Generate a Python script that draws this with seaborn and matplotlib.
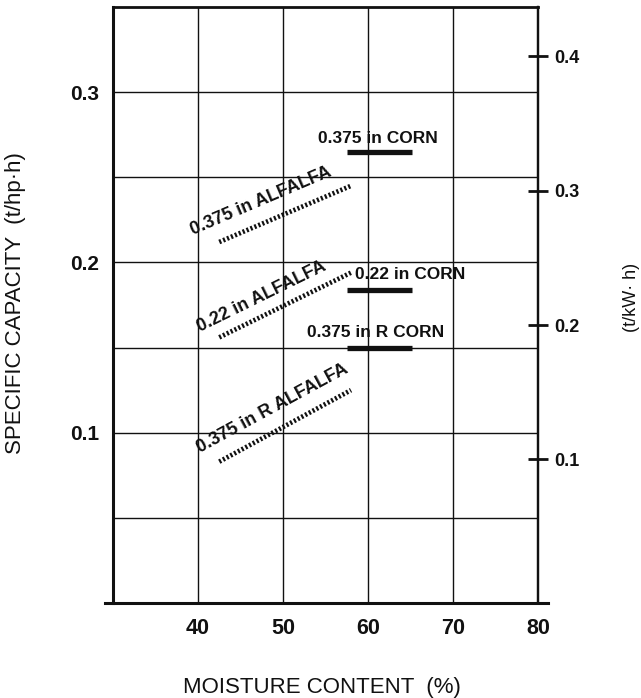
import numpy as np
import pandas as pd
import matplotlib
matplotlib.use("Agg")
import matplotlib.pyplot as plt
import seaborn as sns

# Moisture content (%) at the two ends of each test segment
alfalfa_moisture = [42.5, 58.0]
corn_moisture = [57.5, 65.2]

# Specific capacity (t/hp·h) at the segment ends
alfalfa_375 = [0.212, 0.245]
alfalfa_22 = [0.156, 0.194]
alfalfa_375_r = [0.083, 0.125]
corn_375 = [0.265, 0.265]
corn_22 = [0.184, 0.184]
corn_375_r = [0.150, 0.150]

series_names = ["0.375 in ALFALFA", "0.22 in ALFALFA", "0.375 in R ALFALFA",
                "0.375 in CORN", "0.22 in CORN", "0.375 in R CORN"]
series_crop = ["alfalfa", "alfalfa", "alfalfa", "corn", "corn", "corn"]
series_values = [alfalfa_375, alfalfa_22, alfalfa_375_r,
                 corn_375, corn_22, corn_375_r]

x_ticks = [30, 40, 50, 60, 70, 80]
x_tick_labels = ["", "40", "50", "60", "70", "80"]
y_ticks = [0.1, 0.2, 0.3]
y_tick_labels = ["0.1", "0.2", "0.3"]
kw_ticks = [0.1, 0.2, 0.3, 0.4]
kw_tick_labels = ["0.1", "0.2", "0.3", "0.4"]

# Right-hand scale: t/hp·h = KW_OFFSET + KW_SLOPE * t/kW·h
KW_SLOPE = 0.789
KW_OFFSET = 0.0054

rows = []
for name, crop, vals in zip(series_names, series_crop, series_values):
    xs = alfalfa_moisture if crop == "alfalfa" else corn_moisture
    for x, y in zip(xs, vals):
        rows.append({"series": name, "crop": crop, "moisture": x, "capacity": y})
df = pd.DataFrame(rows)

sns.set_theme(style="white")
plt.rcParams["font.family"] = ["Liberation Sans", "DejaVu Sans"]
INK = "#111111"

fig = plt.figure(figsize=(6.41, 6.98), dpi=100)
W, H = 641, 698
ax = fig.add_axes([113 / W, 1 - 603 / H, 425 / W, 596 / H])
ax.set_xlim(30, 80)
ax.set_ylim(0, 0.35)

# grid: every 10 % moisture, every 0.05 t/hp·h
ax.set_xticks(x_ticks)
ax.set_xticklabels(x_tick_labels, fontweight="bold")
ax.set_yticks(y_ticks)
ax.set_yticklabels(y_tick_labels, fontweight="bold")
ax.set_yticks([0.05, 0.15, 0.25], minor=True)
ax.grid(True, which="both", axis="both", color=INK, lw=1.0)
ax.tick_params(axis="y", which="minor", length=0)
ax.set_axisbelow(True)

ax.tick_params(axis="x", which="major", direction="inout", length=12,
               width=2.0, color=INK, labelsize=15.5, pad=5, labelcolor=INK)
ax.tick_params(axis="y", which="major", direction="inout", length=14,
               width=2.0, color=INK, labelsize=15, pad=3, labelcolor=INK)
ax.tick_params(axis="y", which="major", right=False)

for side, lw in [("left", 2.2), ("bottom", 2.2), ("top", 2.0), ("right", 1.6)]:
    ax.spines[side].set_visible(True)
    ax.spines[side].set_color(INK)
    ax.spines[side].set_linewidth(lw)
ax.spines["bottom"].set_bounds(29.0, 81.2)

# alfalfa: dotted bands, corn: solid bars
alf = df[df["crop"] == "alfalfa"]
corn = df[df["crop"] == "corn"]
sns.lineplot(data=alf, x="moisture", y="capacity", units="series",
             estimator=None, color=INK, lw=3.4, ls=(0, (0.45, 0.45)),
             ax=ax, legend=False)
sns.lineplot(data=corn, x="moisture", y="capacity", units="series",
             estimator=None, color=INK, lw=3.8, ax=ax, legend=False,
             solid_capstyle="butt")
ax.set_xlabel("")
ax.set_ylabel("")

# segment labels
alfalfa_label_pos = {
    "0.375 in ALFALFA": (39.4, 0.216),
    "0.22 in ALFALFA": (40.2, 0.159),
    "0.375 in R ALFALFA": (40.2, 0.088),
}
corn_label_pos = {
    "0.375 in CORN": (54.1, 0.270),
    "0.22 in CORN": (58.5, 0.190),
    "0.375 in R CORN": (52.8, 0.156),
}
for name, vals in zip(series_names[:3], series_values[:3]):
    angle = np.degrees(np.arctan2(vals[1] - vals[0],
                                  alfalfa_moisture[1] - alfalfa_moisture[0]))
    x, y = alfalfa_label_pos[name]
    ax.text(x, y, name, rotation=angle, transform_rotates_text=True,
            rotation_mode="anchor", ha="left", va="baseline",
            fontsize=13, fontweight="bold", color=INK)
for name in series_names[3:]:
    x, y = corn_label_pos[name]
    ax.text(x, y, name, ha="left", va="baseline",
            fontsize=12.5, fontweight="bold", color=INK)

# metric scale on the right
secax = ax.secondary_yaxis(
    "right",
    functions=(lambda v: (v - KW_OFFSET) / KW_SLOPE,
               lambda k: KW_OFFSET + KW_SLOPE * k))
secax.set_yticks(kw_ticks)
secax.set_yticklabels(kw_tick_labels, fontweight="bold")
secax.tick_params(direction="inout", length=14, width=2.0, color=INK,
                  labelsize=13, pad=5, labelcolor=INK)
secax.spines["right"].set_color(INK)
secax.spines["right"].set_linewidth(1.6)

fig.text(322 / W, 1 - 687 / H, "MOISTURE CONTENT  (%)", ha="center",
         va="center", fontsize=16, color=INK)
fig.text(16 / W, 1 - 303 / H, "SPECIFIC CAPACITY  (t/hp\u00b7h)", ha="center",
         va="center", rotation=90, fontsize=16, color=INK)
fig.text(632 / W, 1 - 297 / H, "(t/kW\u00b7 h)", ha="center",
         va="center", rotation=90, fontsize=13, color=INK)

fig.savefig("out.png", dpi=100, facecolor="white")
